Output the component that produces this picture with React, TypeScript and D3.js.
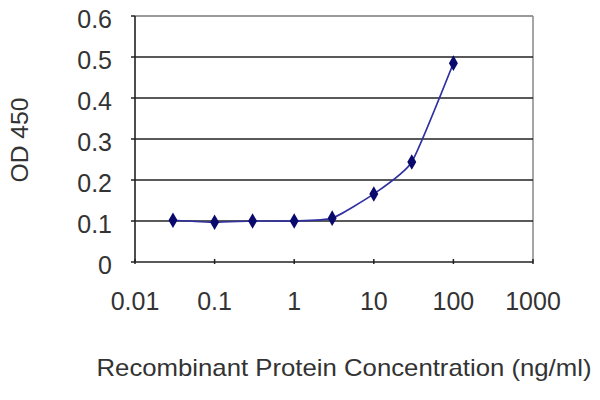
import React from "react";
import * as d3 from "d3";

const concentrations = [0.03, 0.1, 0.3, 1, 3, 10, 30, 100];
const odValues = [0.102, 0.097, 0.1, 0.1, 0.107, 0.166, 0.244, 0.485];
const xTicks = [0.01, 0.1, 1, 10, 100, 1000];
const xTickLabels = ["0.01", "0.1", "1", "10", "100", "1000"];
const yTicks = [0, 0.1, 0.2, 0.3, 0.4, 0.5, 0.6];
const yTickLabels = ["0", "0.1", "0.2", "0.3", "0.4", "0.5", "0.6"];
const xTitle = "Recombinant Protein Concentration (ng/ml)";
const yTitle = "OD 450";

export default function App() {
  const W = 600, H = 400;
  const left = 135, right = 533, top = 16, bottom = 262;
  const x = d3.scaleLog().domain([0.01, 1000]).range([left, right]);
  const y = d3.scaleLinear().domain([0, 0.6]).range([bottom, top]);
  const pts = concentrations.map((c, i) => [x(c), y(odValues[i])] as [number, number]);
  const line = d3.line().curve(d3.curveCardinal.tension(0.5))(pts) || "";
  const diamond = d3.symbol().type(d3.symbolDiamond).size(70)() || "";
  const font = "'Liberation Sans', Arial, sans-serif";
  return (
    <svg width={W} height={H} style={{ position: "absolute", left: 0, top: 0, background: "#fff" }}>
      <rect x={0} y={0} width={W} height={H} fill="#fff" />
      <line x1={left} x2={right} y1={top} y2={top} stroke="#777" strokeWidth={1.5} />
      <line x1={right} x2={right} y1={top} y2={bottom} stroke="#888" strokeWidth={1.5} />
      {yTicks.slice(1, -1).map((t) => (
        <line key={t} x1={left} x2={right} y1={y(t)} y2={y(t)} stroke="#222" strokeWidth={1.6} />
      ))}
      <line x1={left} x2={left} y1={top} y2={bottom} stroke="#222" strokeWidth={1.6} />
      <line x1={left} x2={right} y1={bottom} y2={bottom} stroke="#222" strokeWidth={1.6} />
      {yTicks.map((t) => (
        <line key={"yt" + t} x1={left - 4} x2={left} y1={y(t)} y2={y(t)} stroke="#222" strokeWidth={1.5} />
      ))}
      {xTicks.map((t) => (
        <line key={"xt" + t} x1={x(t)} x2={x(t)} y1={bottom - 3} y2={bottom + 2} stroke="#222" strokeWidth={1.5} />
      ))}
      {yTicks.map((t, i) => (
        <text key={"yl" + t} x={112} y={y(t) + 3} dy="0.35em" textAnchor="end" fontFamily={font} fontSize={25} fill="#333">
          {yTickLabels[i]}
        </text>
      ))}
      {xTicks.map((t, i) => (
        <text key={"xl" + t} x={x(t)} y={301} dy="0.35em" textAnchor="middle" fontFamily={font} fontSize={25} fill="#333">
          {xTickLabels[i]}
        </text>
      ))}
      <text x={344} y={368} dy="0.35em" textAnchor="middle" fontFamily={font} fontSize={24} fill="#333"
        textLength={495} lengthAdjust="spacingAndGlyphs">
        {xTitle}
      </text>
      <text transform="translate(20,140) rotate(-90)" dy="0.35em" textAnchor="middle" fontFamily={font} fontSize={24} fill="#333"
        textLength={85} lengthAdjust="spacingAndGlyphs">
        {yTitle}
      </text>
      <path d={line} fill="none" stroke="#3030a0" strokeWidth={1.6} />
      {pts.map((p, i) => (
        <path key={"m" + i} d={diamond} transform={`translate(${p[0]},${p[1]})`} fill="#0a0a6e" />
      ))}
    </svg>
  );
}
